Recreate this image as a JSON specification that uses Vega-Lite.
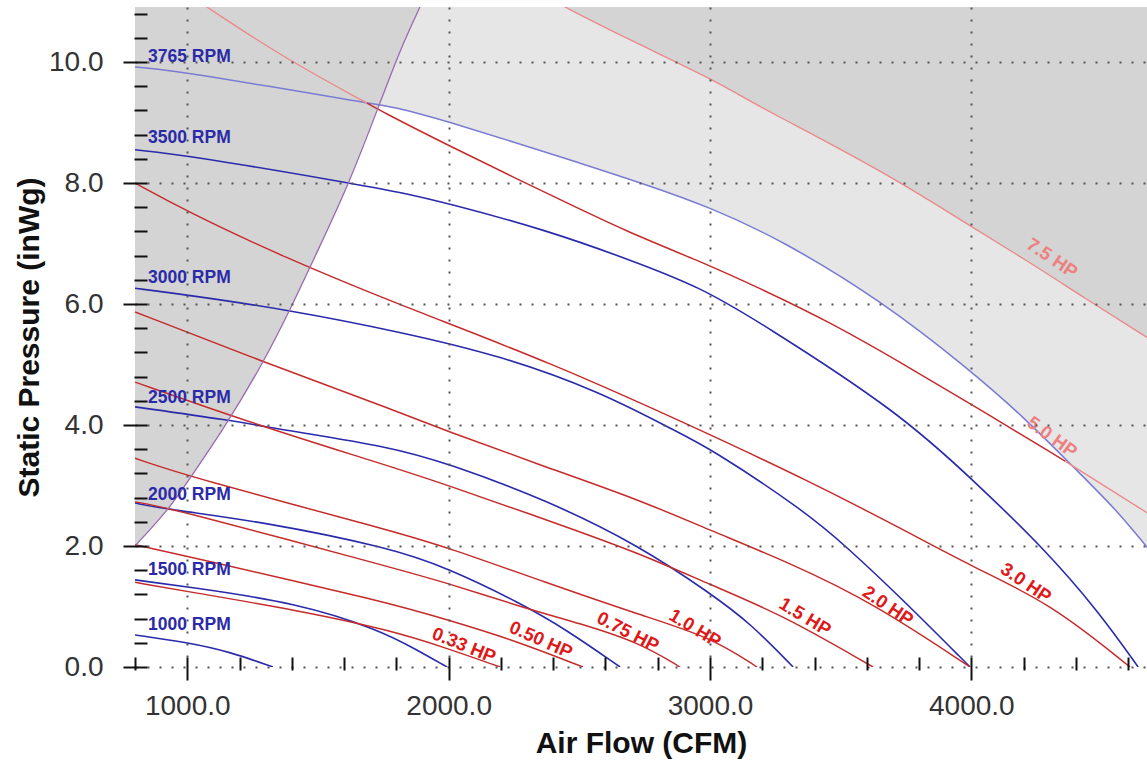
{
  "$schema": "https://vega.github.io/schema/vega-lite/v6.json",
  "width": 1012,
  "height": 660,
  "autosize": {"type": "none"},
  "padding": {"left": 135, "top": 7, "right": 0, "bottom": 100},
  "background": "white",
  "config": {"view": {"stroke": null}, "font": "Liberation Sans"},
  "datasets": {
    "curves": [
      {"series": "1000 RPM", "kind": "rpm", "cfm": 800, "p": 0.53},
      {"series": "1000 RPM", "kind": "rpm", "cfm": 1010, "p": 0.40},
      {"series": "1000 RPM", "kind": "rpm", "cfm": 1163, "p": 0.25},
      {"series": "1000 RPM", "kind": "rpm", "cfm": 1328, "p": 0},
      {"series": "1500 RPM", "kind": "rpm", "cfm": 800, "p": 1.44},
      {"series": "1500 RPM", "kind": "rpm", "cfm": 1010, "p": 1.32},
      {"series": "1500 RPM", "kind": "rpm", "cfm": 1420, "p": 1.06},
      {"series": "1500 RPM", "kind": "rpm", "cfm": 1737, "p": 0.61},
      {"series": "1500 RPM", "kind": "rpm", "cfm": 1871, "p": 0.30},
      {"series": "1500 RPM", "kind": "rpm", "cfm": 1994, "p": 0},
      {"series": "2000 RPM", "kind": "rpm", "cfm": 800, "p": 2.71},
      {"series": "2000 RPM", "kind": "rpm", "cfm": 934, "p": 2.60},
      {"series": "2000 RPM", "kind": "rpm", "cfm": 1290, "p": 2.40},
      {"series": "2000 RPM", "kind": "rpm", "cfm": 1776, "p": 1.97},
      {"series": "2000 RPM", "kind": "rpm", "cfm": 1994, "p": 1.64},
      {"series": "2000 RPM", "kind": "rpm", "cfm": 2273, "p": 1.06},
      {"series": "2000 RPM", "kind": "rpm", "cfm": 2453, "p": 0.61},
      {"series": "2000 RPM", "kind": "rpm", "cfm": 2656, "p": 0},
      {"series": "2500 RPM", "kind": "rpm", "cfm": 800, "p": 4.30},
      {"series": "2500 RPM", "kind": "rpm", "cfm": 1163, "p": 4.08},
      {"series": "2500 RPM", "kind": "rpm", "cfm": 1366, "p": 3.92},
      {"series": "2500 RPM", "kind": "rpm", "cfm": 1776, "p": 3.64},
      {"series": "2500 RPM", "kind": "rpm", "cfm": 1994, "p": 3.37},
      {"series": "2500 RPM", "kind": "rpm", "cfm": 2376, "p": 2.76},
      {"series": "2500 RPM", "kind": "rpm", "cfm": 2732, "p": 2.0},
      {"series": "2500 RPM", "kind": "rpm", "cfm": 3000, "p": 1.22},
      {"series": "2500 RPM", "kind": "rpm", "cfm": 3153, "p": 0.73},
      {"series": "2500 RPM", "kind": "rpm", "cfm": 3318, "p": 0},
      {"series": "3000 RPM", "kind": "rpm", "cfm": 800, "p": 6.26},
      {"series": "3000 RPM", "kind": "rpm", "cfm": 1000, "p": 6.15},
      {"series": "3000 RPM", "kind": "rpm", "cfm": 1393, "p": 5.90},
      {"series": "3000 RPM", "kind": "rpm", "cfm": 1814, "p": 5.54},
      {"series": "3000 RPM", "kind": "rpm", "cfm": 2197, "p": 5.15},
      {"series": "3000 RPM", "kind": "rpm", "cfm": 2580, "p": 4.55},
      {"series": "3000 RPM", "kind": "rpm", "cfm": 2858, "p": 3.92},
      {"series": "3000 RPM", "kind": "rpm", "cfm": 3000, "p": 3.62},
      {"series": "3000 RPM", "kind": "rpm", "cfm": 3371, "p": 2.55},
      {"series": "3000 RPM", "kind": "rpm", "cfm": 3524, "p": 1.98},
      {"series": "3000 RPM", "kind": "rpm", "cfm": 3727, "p": 1.16},
      {"series": "3000 RPM", "kind": "rpm", "cfm": 3995, "p": 0},
      {"series": "3500 RPM", "kind": "rpm", "cfm": 800, "p": 8.55},
      {"series": "3500 RPM", "kind": "rpm", "cfm": 1000, "p": 8.46},
      {"series": "3500 RPM", "kind": "rpm", "cfm": 1623, "p": 8.0},
      {"series": "3500 RPM", "kind": "rpm", "cfm": 1814, "p": 7.85},
      {"series": "3500 RPM", "kind": "rpm", "cfm": 1994, "p": 7.67},
      {"series": "3500 RPM", "kind": "rpm", "cfm": 2376, "p": 7.22},
      {"series": "3500 RPM", "kind": "rpm", "cfm": 2694, "p": 6.73},
      {"series": "3500 RPM", "kind": "rpm", "cfm": 2962, "p": 6.28},
      {"series": "3500 RPM", "kind": "rpm", "cfm": 3191, "p": 5.70},
      {"series": "3500 RPM", "kind": "rpm", "cfm": 3727, "p": 4.20},
      {"series": "3500 RPM", "kind": "rpm", "cfm": 4006, "p": 3.09},
      {"series": "3500 RPM", "kind": "rpm", "cfm": 4274, "p": 1.98},
      {"series": "3500 RPM", "kind": "rpm", "cfm": 4492, "p": 0.89},
      {"series": "3500 RPM", "kind": "rpm", "cfm": 4638, "p": 0},
      {"series": "3765 RPM", "kind": "rpmMax", "cfm": 800, "p": 9.92},
      {"series": "3765 RPM", "kind": "rpmMax", "cfm": 1003, "p": 9.83},
      {"series": "3765 RPM", "kind": "rpmMax", "cfm": 1688, "p": 9.32},
      {"series": "3765 RPM", "kind": "rpmMax", "cfm": 1814, "p": 9.24},
      {"series": "3765 RPM", "kind": "rpmMax", "cfm": 1994, "p": 9.02},
      {"series": "3765 RPM", "kind": "rpmMax", "cfm": 2246, "p": 8.68},
      {"series": "3765 RPM", "kind": "rpmMax", "cfm": 2503, "p": 8.33},
      {"series": "3765 RPM", "kind": "rpmMax", "cfm": 2759, "p": 7.97},
      {"series": "3765 RPM", "kind": "rpmMax", "cfm": 3000, "p": 7.60},
      {"series": "3765 RPM", "kind": "rpmMax", "cfm": 3268, "p": 7.07},
      {"series": "3765 RPM", "kind": "rpmMax", "cfm": 3651, "p": 6.07},
      {"series": "3765 RPM", "kind": "rpmMax", "cfm": 3995, "p": 4.91},
      {"series": "3765 RPM", "kind": "rpmMax", "cfm": 4213, "p": 4.08},
      {"series": "3765 RPM", "kind": "rpmMax", "cfm": 4389, "p": 3.31},
      {"series": "3765 RPM", "kind": "rpmMax", "cfm": 4557, "p": 2.59},
      {"series": "3765 RPM", "kind": "rpmMax", "cfm": 4672, "p": 1.98},
      {"series": "0.33 HP", "kind": "hp", "cfm": 800, "p": 1.40},
      {"series": "0.33 HP", "kind": "hp", "cfm": 1010, "p": 1.24},
      {"series": "0.33 HP", "kind": "hp", "cfm": 1420, "p": 0.94},
      {"series": "0.33 HP", "kind": "hp", "cfm": 1776, "p": 0.61},
      {"series": "0.33 HP", "kind": "hp", "cfm": 1994, "p": 0.31},
      {"series": "0.33 HP", "kind": "hp", "cfm": 2197, "p": 0},
      {"series": "0.50 HP", "kind": "hp", "cfm": 800, "p": 2.02},
      {"series": "0.50 HP", "kind": "hp", "cfm": 1010, "p": 1.82},
      {"series": "0.50 HP", "kind": "hp", "cfm": 1776, "p": 1.06},
      {"series": "0.50 HP", "kind": "hp", "cfm": 1994, "p": 0.78},
      {"series": "0.50 HP", "kind": "hp", "cfm": 2246, "p": 0.45},
      {"series": "0.50 HP", "kind": "hp", "cfm": 2514, "p": 0},
      {"series": "0.75 HP", "kind": "hp", "cfm": 800, "p": 2.73},
      {"series": "0.75 HP", "kind": "hp", "cfm": 934, "p": 2.63},
      {"series": "0.75 HP", "kind": "hp", "cfm": 1776, "p": 1.65},
      {"series": "0.75 HP", "kind": "hp", "cfm": 1994, "p": 1.39},
      {"series": "0.75 HP", "kind": "hp", "cfm": 2285, "p": 0.98},
      {"series": "0.75 HP", "kind": "hp", "cfm": 2503, "p": 0.72},
      {"series": "0.75 HP", "kind": "hp", "cfm": 2732, "p": 0.40},
      {"series": "0.75 HP", "kind": "hp", "cfm": 2885, "p": 0},
      {"series": "1.0 HP", "kind": "hp", "cfm": 800, "p": 3.45},
      {"series": "1.0 HP", "kind": "hp", "cfm": 1010, "p": 3.14},
      {"series": "1.0 HP", "kind": "hp", "cfm": 1776, "p": 2.26},
      {"series": "1.0 HP", "kind": "hp", "cfm": 1994, "p": 1.98},
      {"series": "1.0 HP", "kind": "hp", "cfm": 2376, "p": 1.39},
      {"series": "1.0 HP", "kind": "hp", "cfm": 2732, "p": 0.86},
      {"series": "1.0 HP", "kind": "hp", "cfm": 3000, "p": 0.50},
      {"series": "1.0 HP", "kind": "hp", "cfm": 3180, "p": 0},
      {"series": "1.5 HP", "kind": "hp", "cfm": 800, "p": 4.71},
      {"series": "1.5 HP", "kind": "hp", "cfm": 1267, "p": 4.0},
      {"series": "1.5 HP", "kind": "hp", "cfm": 1737, "p": 3.37},
      {"series": "1.5 HP", "kind": "hp", "cfm": 1994, "p": 3.01},
      {"series": "1.5 HP", "kind": "hp", "cfm": 2376, "p": 2.43},
      {"series": "1.5 HP", "kind": "hp", "cfm": 2732, "p": 1.88},
      {"series": "1.5 HP", "kind": "hp", "cfm": 3000, "p": 1.36},
      {"series": "1.5 HP", "kind": "hp", "cfm": 3279, "p": 0.86},
      {"series": "1.5 HP", "kind": "hp", "cfm": 3624, "p": 0},
      {"series": "2.0 HP", "kind": "hp", "cfm": 800, "p": 5.87},
      {"series": "2.0 HP", "kind": "hp", "cfm": 1286, "p": 5.05},
      {"series": "2.0 HP", "kind": "hp", "cfm": 1814, "p": 4.21},
      {"series": "2.0 HP", "kind": "hp", "cfm": 1979, "p": 3.92},
      {"series": "2.0 HP", "kind": "hp", "cfm": 2350, "p": 3.34},
      {"series": "2.0 HP", "kind": "hp", "cfm": 2732, "p": 2.76},
      {"series": "2.0 HP", "kind": "hp", "cfm": 3000, "p": 2.26},
      {"series": "2.0 HP", "kind": "hp", "cfm": 3306, "p": 1.72},
      {"series": "2.0 HP", "kind": "hp", "cfm": 3624, "p": 1.06},
      {"series": "2.0 HP", "kind": "hp", "cfm": 3995, "p": 0},
      {"series": "3.0 HP", "kind": "hp", "cfm": 800, "p": 8.0},
      {"series": "3.0 HP", "kind": "hp", "cfm": 1003, "p": 7.52},
      {"series": "3.0 HP", "kind": "hp", "cfm": 1366, "p": 6.78},
      {"series": "3.0 HP", "kind": "hp", "cfm": 1814, "p": 5.98},
      {"series": "3.0 HP", "kind": "hp", "cfm": 2388, "p": 5.04},
      {"series": "3.0 HP", "kind": "hp", "cfm": 2962, "p": 3.92},
      {"series": "3.0 HP", "kind": "hp", "cfm": 3371, "p": 3.09},
      {"series": "3.0 HP", "kind": "hp", "cfm": 3727, "p": 2.30},
      {"series": "3.0 HP", "kind": "hp", "cfm": 4006, "p": 1.65},
      {"series": "3.0 HP", "kind": "hp", "cfm": 4301, "p": 1.06},
      {"series": "3.0 HP", "kind": "hp", "cfm": 4607, "p": 0},
      {"series": "5.0 HP a", "kind": "hpOut", "cfm": 1075, "p": 10.91},
      {"series": "5.0 HP a", "kind": "hpOut", "cfm": 1366, "p": 10.08},
      {"series": "5.0 HP a", "kind": "hpOut", "cfm": 1688, "p": 9.32},
      {"series": "5.0 HP b", "kind": "hp", "cfm": 1688, "p": 9.32},
      {"series": "5.0 HP b", "kind": "hp", "cfm": 1737, "p": 9.20},
      {"series": "5.0 HP b", "kind": "hp", "cfm": 1994, "p": 8.63},
      {"series": "5.0 HP b", "kind": "hp", "cfm": 2376, "p": 7.83},
      {"series": "5.0 HP b", "kind": "hp", "cfm": 2694, "p": 7.17},
      {"series": "5.0 HP b", "kind": "hp", "cfm": 2950, "p": 6.73},
      {"series": "5.0 HP b", "kind": "hp", "cfm": 3191, "p": 6.26},
      {"series": "5.0 HP b", "kind": "hp", "cfm": 3459, "p": 5.70},
      {"series": "5.0 HP b", "kind": "hp", "cfm": 3727, "p": 5.04},
      {"series": "5.0 HP b", "kind": "hp", "cfm": 4006, "p": 4.33},
      {"series": "5.0 HP b", "kind": "hp", "cfm": 4360, "p": 3.40},
      {"series": "5.0 HP c", "kind": "hpOut", "cfm": 4360, "p": 3.40},
      {"series": "5.0 HP c", "kind": "hpOut", "cfm": 4672, "p": 2.55},
      {"series": "7.5 HP", "kind": "hpOut", "cfm": 2445, "p": 10.91},
      {"series": "7.5 HP", "kind": "hpOut", "cfm": 2694, "p": 10.36},
      {"series": "7.5 HP", "kind": "hpOut", "cfm": 3000, "p": 9.74},
      {"series": "7.5 HP", "kind": "hpOut", "cfm": 3191, "p": 9.26},
      {"series": "7.5 HP", "kind": "hpOut", "cfm": 3268, "p": 9.09},
      {"series": "7.5 HP", "kind": "hpOut", "cfm": 3700, "p": 8.10},
      {"series": "7.5 HP", "kind": "hpOut", "cfm": 4002, "p": 7.27},
      {"series": "7.5 HP", "kind": "hpOut", "cfm": 4213, "p": 6.72},
      {"series": "7.5 HP", "kind": "hpOut", "cfm": 4443, "p": 6.07},
      {"series": "7.5 HP", "kind": "hpOut", "cfm": 4672, "p": 5.45},
      {"series": "stall", "kind": "stall", "cfm": 800, "p": 2.0},
      {"series": "stall", "kind": "stall", "cfm": 934, "p": 2.63},
      {"series": "stall", "kind": "stall", "cfm": 1010, "p": 3.12},
      {"series": "stall", "kind": "stall", "cfm": 1137, "p": 3.92},
      {"series": "stall", "kind": "stall", "cfm": 1286, "p": 4.99},
      {"series": "stall", "kind": "stall", "cfm": 1393, "p": 5.90},
      {"series": "stall", "kind": "stall", "cfm": 1500, "p": 6.89},
      {"series": "stall", "kind": "stall", "cfm": 1620, "p": 8.0},
      {"series": "stall", "kind": "stall", "cfm": 1737, "p": 9.32},
      {"series": "stall", "kind": "stall", "cfm": 1814, "p": 10.2},
      {"series": "stall", "kind": "stall", "cfm": 1890, "p": 10.91}
    ],
    "rpmLabels": [
      {"label": "3765 RPM", "cfm": 850, "p": 10.0},
      {"label": "3500 RPM", "cfm": 850, "p": 8.66},
      {"label": "3000 RPM", "cfm": 850, "p": 6.35},
      {"label": "2500 RPM", "cfm": 850, "p": 4.36},
      {"label": "2000 RPM", "cfm": 850, "p": 2.76},
      {"label": "1500 RPM", "cfm": 850, "p": 1.52},
      {"label": "1000 RPM", "cfm": 850, "p": 0.61}
    ],
    "hpLabels": [
      {"label": "0.33 HP", "cfm": 2059, "p": 0.36},
      {"label": "0.50 HP", "cfm": 2353, "p": 0.45},
      {"label": "0.75 HP", "cfm": 2686, "p": 0.58},
      {"label": "1.0 HP", "cfm": 2943, "p": 0.64},
      {"label": "1.5 HP", "cfm": 3364, "p": 0.83},
      {"label": "2.0 HP", "cfm": 3681, "p": 1.01},
      {"label": "3.0 HP", "cfm": 4209, "p": 1.39},
      {"label": "5.0 HP", "cfm": 4309, "p": 3.80},
      {"label": "7.5 HP", "cfm": 4309, "p": 6.76}
    ]
  },
  "encoding": {
    "x": {
      "field": "cfm", "type": "quantitative",
      "scale": {"domain": [800, 4672], "nice": false, "zero": false},
      "axis": {
        "title": "Air Flow (CFM)",
        "values": [800, 1000, 1200, 1400, 1600, 1800, 2000, 2200, 2400, 2600, 2800, 3000, 3200, 3400, 3600, 3800, 4000, 4200, 4400, 4600],
        "labelExpr": "datum.value % 1000 === 0 ? format(datum.value, '.1f') : ''",
        "labelFont": "Liberation Sans", "labelFontSize": 28, "labelColor": "#333333",
        "labelPadding": 12, "labelFlush": false, "labelOverlap": false,
        "titleFont": "Liberation Sans", "titleFontSize": 30, "titleFontWeight": "bold", "titleColor": "#111111", "titlePadding": 8,
        "domain": false, "offset": -10,
        "tickColor": "#111111", "tickWidth": 2,
        "tickSize": {"condition": {"test": "datum.value % 1000 === 0", "value": 23}, "value": 13},
        "grid": true, "gridColor": "#555555", "gridDash": [2, 10], "gridWidth": 2,
        "gridOpacity": {"condition": {"test": "datum.value % 1000 === 0", "value": 1}, "value": 0},
        "zindex": 2
      }
    },
    "y": {
      "field": "p", "type": "quantitative",
      "scale": {"domain": [0, 10.91], "nice": false, "zero": false},
      "axis": {
        "title": "Static Pressure (inWg)",
        "values": [0, 0.4, 0.8, 1.2, 1.6, 2, 2.4, 2.8, 3.2, 3.6, 4, 4.4, 4.8, 5.2, 5.6, 6, 6.4, 6.8, 7.2, 7.6, 8, 8.4, 8.8, 9.2, 9.6, 10, 10.4, 10.8],
        "labelExpr": "abs(datum.value - 2*round(datum.value/2)) < 0.01 ? format(datum.value, '.1f') : ''",
        "labelFont": "Liberation Sans", "labelFontSize": 28, "labelColor": "#333333",
        "labelPadding": 20, "labelFlush": false, "labelOverlap": false,
        "titleFont": "Liberation Sans", "titleFontSize": 30, "titleFontWeight": "bold", "titleColor": "#111111", "titlePadding": 4,
        "domain": false, "offset": -12,
        "tickColor": "#111111", "tickWidth": 2,
        "tickSize": {"condition": {"test": "abs(datum.value - 2*round(datum.value/2)) < 0.01", "value": 24}, "value": 13},
        "grid": true, "gridColor": "#555555", "gridDash": [2, 10], "gridWidth": 2,
        "gridOpacity": {"condition": {"test": "abs(datum.value - 2*round(datum.value/2)) < 0.01", "value": 1}, "value": 0},
        "zindex": 2
      }
    }
  },
  "layer": [
    {
      "data": {"name": "curves"},
      "transform": [{"filter": "datum.series === '3765 RPM'"}],
      "mark": {"type": "area", "color": "#e6e6e6", "interpolate": "basis", "clip": true},
      "encoding": {"y2": {"datum": 10.91}}
    },
    {
      "data": {"name": "curves"},
      "transform": [{"filter": "datum.series === '7.5 HP'"}],
      "mark": {"type": "area", "color": "#d4d4d4", "interpolate": "basis", "clip": true},
      "encoding": {"y2": {"datum": 10.91}}
    },
    {
      "data": {"name": "curves"},
      "transform": [{"filter": "datum.series === 'stall'"}],
      "mark": {"type": "area", "color": "#d4d4d4", "interpolate": "basis", "clip": true},
      "encoding": {"y2": {"datum": 10.91}}
    },
    {
      "data": {"name": "curves"},
      "mark": {"type": "line", "interpolate": "basis", "clip": true},
      "encoding": {
        "detail": {"field": "series"},
        "color": {
          "field": "kind", "type": "nominal", "legend": null,
          "scale": {"domain": ["rpm", "rpmMax", "hp", "hpOut", "stall"], "range": ["#2a2aac", "#7b7bd4", "#c62a2a", "#ea8a8a", "#9a6ab4"]}
        },
        "strokeWidth": {
          "field": "kind", "type": "nominal", "legend": null,
          "scale": {"domain": ["rpm", "rpmMax", "hp", "hpOut", "stall"], "range": [1.6, 1.3, 1.5, 1.2, 1.1]}
        }
      }
    },
    {
      "data": {"name": "rpmLabels"},
      "mark": {"type": "text", "align": "left", "baseline": "alphabetic", "font": "Liberation Sans", "fontSize": 17.5, "fontWeight": "bold", "color": "#2a2aa8"},
      "encoding": {"text": {"field": "label"}}
    },
    {"data": {"name": "hpLabels"}, "transform": [{"filter": "datum.label === '0.33 HP'"}],
     "mark": {"type": "text", "angle": 22, "align": "center", "baseline": "middle", "font": "Liberation Sans", "fontSize": 18.5, "fontWeight": "bold", "color": "#e01818"},
     "encoding": {"text": {"field": "label"}}},
    {"data": {"name": "hpLabels"}, "transform": [{"filter": "datum.label === '0.50 HP'"}],
     "mark": {"type": "text", "angle": 24, "align": "center", "baseline": "middle", "font": "Liberation Sans", "fontSize": 18.5, "fontWeight": "bold", "color": "#e01818"},
     "encoding": {"text": {"field": "label"}}},
    {"data": {"name": "hpLabels"}, "transform": [{"filter": "datum.label === '0.75 HP'"}],
     "mark": {"type": "text", "angle": 27, "align": "center", "baseline": "middle", "font": "Liberation Sans", "fontSize": 18.5, "fontWeight": "bold", "color": "#e01818"},
     "encoding": {"text": {"field": "label"}}},
    {"data": {"name": "hpLabels"}, "transform": [{"filter": "datum.label === '1.0 HP'"}],
     "mark": {"type": "text", "angle": 31, "align": "center", "baseline": "middle", "font": "Liberation Sans", "fontSize": 18.5, "fontWeight": "bold", "color": "#e01818"},
     "encoding": {"text": {"field": "label"}}},
    {"data": {"name": "hpLabels"}, "transform": [{"filter": "datum.label === '1.5 HP'"}],
     "mark": {"type": "text", "angle": 31, "align": "center", "baseline": "middle", "font": "Liberation Sans", "fontSize": 18.5, "fontWeight": "bold", "color": "#e01818"},
     "encoding": {"text": {"field": "label"}}},
    {"data": {"name": "hpLabels"}, "transform": [{"filter": "datum.label === '2.0 HP'"}],
     "mark": {"type": "text", "angle": 34, "align": "center", "baseline": "middle", "font": "Liberation Sans", "fontSize": 18.5, "fontWeight": "bold", "color": "#e01818"},
     "encoding": {"text": {"field": "label"}}},
    {"data": {"name": "hpLabels"}, "transform": [{"filter": "datum.label === '3.0 HP'"}],
     "mark": {"type": "text", "angle": 34, "align": "center", "baseline": "middle", "font": "Liberation Sans", "fontSize": 18.5, "fontWeight": "bold", "color": "#e01818"},
     "encoding": {"text": {"field": "label"}}},
    {"data": {"name": "hpLabels"}, "transform": [{"filter": "datum.label === '5.0 HP'"}],
     "mark": {"type": "text", "angle": 36, "align": "center", "baseline": "middle", "font": "Liberation Sans", "fontSize": 18.5, "fontWeight": "bold", "color": "#ec8080"},
     "encoding": {"text": {"field": "label"}}},
    {"data": {"name": "hpLabels"}, "transform": [{"filter": "datum.label === '7.5 HP'"}],
     "mark": {"type": "text", "angle": 34, "align": "center", "baseline": "middle", "font": "Liberation Sans", "fontSize": 18.5, "fontWeight": "bold", "color": "#ec8080"},
     "encoding": {"text": {"field": "label"}}},
    {
      "data": {"values": [{}]},
      "mark": {"type": "rule", "color": "#111111", "strokeWidth": 2},
      "encoding": {"x": {"datum": 800}, "y": {"datum": 0}, "y2": {"datum": 10.91}}
    },
    {
      "data": {"values": [{}]},
      "mark": {"type": "rule", "color": "#111111", "strokeWidth": 2},
      "encoding": {"x": {"datum": 800}, "x2": {"datum": 4672}, "y": {"datum": 0}}
    },
    {
      "data": {"values": [{}]},
      "mark": {"type": "rule", "color": "#333333", "strokeWidth": 2},
      "encoding": {"x": {"datum": 800}, "x2": {"datum": 4672}, "y": {"datum": 10.91}}
    }
  ]
}
